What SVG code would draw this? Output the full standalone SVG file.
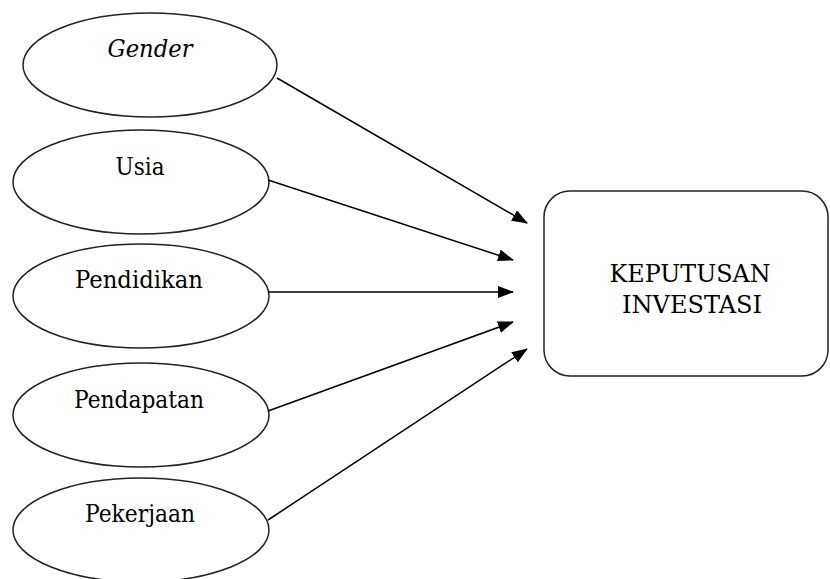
<svg xmlns="http://www.w3.org/2000/svg" width="830" height="579" viewBox="0 0 830 579">
<defs>
<style>
.n{fill:#fff;stroke:#222;stroke-width:1.5}
text{font-family:'DejaVu Serif','Liberation Serif',serif;font-size:24px;fill:#000;text-anchor:middle}
.c{stroke:#000;stroke-width:1.5;fill:none;marker-end:url(#ah)}
</style>
<marker id="ah" markerWidth="16" markerHeight="12" refX="15" refY="6" orient="auto" markerUnits="userSpaceOnUse">
<path d="M0,0 L16,6 L0,12 Z" fill="#000"/>
</marker>
</defs>
<rect width="830" height="579" fill="#fff"/>
<g id="n-gender"><ellipse class="n" cx="150" cy="65" rx="127" ry="52"/><text x="150" y="57" font-style="italic" textLength="85" lengthAdjust="spacingAndGlyphs">Gender</text></g>
<g id="n-usia"><ellipse class="n" cx="141" cy="182" rx="128" ry="52"/><text x="140" y="175" textLength="49" lengthAdjust="spacingAndGlyphs">Usia</text></g>
<g id="n-pendidikan"><ellipse class="n" cx="141" cy="296" rx="128" ry="52"/><text x="139" y="288" textLength="128" lengthAdjust="spacingAndGlyphs">Pendidikan</text></g>
<g id="n-pendapatan"><ellipse class="n" cx="141" cy="415" rx="128" ry="52"/><text x="139" y="408" textLength="130" lengthAdjust="spacingAndGlyphs">Pendapatan</text></g>
<g id="n-pekerjaan"><ellipse class="n" cx="141" cy="530" rx="128" ry="52"/><text x="140" y="522" textLength="110" lengthAdjust="spacingAndGlyphs">Pekerjaan</text></g>
<g id="n-keputusan"><rect class="n" x="544" y="191" width="284" height="185" rx="26" ry="26"/><text x="690" y="282" textLength="161" lengthAdjust="spacingAndGlyphs">KEPUTUSAN</text><text x="692" y="313" textLength="140" lengthAdjust="spacingAndGlyphs">INVESTASI</text></g>
<g id="connectors">
<line class="c" x1="277" y1="78" x2="527" y2="223"/>
<line class="c" x1="268" y1="180" x2="513" y2="260"/>
<line class="c" x1="268" y1="292" x2="513" y2="292"/>
<line class="c" x1="268" y1="411" x2="513" y2="322"/>
<line class="c" x1="268" y1="520" x2="527" y2="349"/>
</g>
</svg>
